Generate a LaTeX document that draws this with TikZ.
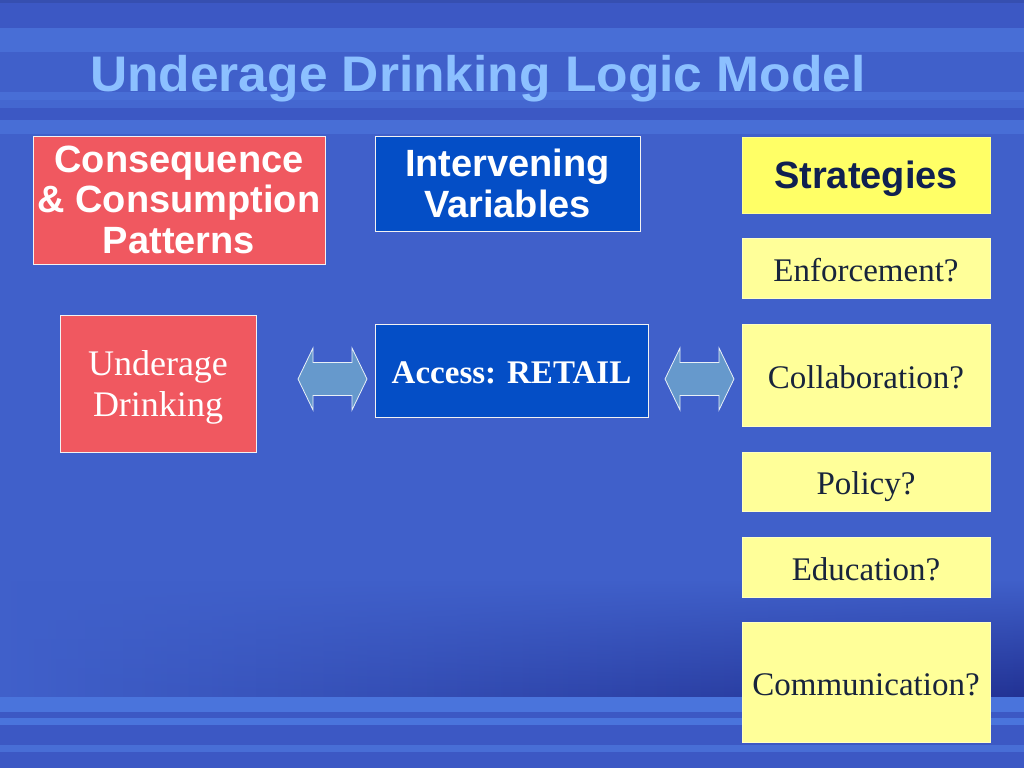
\documentclass[tikz,border=0pt]{standalone}
\usepackage{graphicx}
\usepackage{fontspec}
\setmainfont{Liberation Serif}
\newfontfamily\sansf{Liberation Sans}
\usetikzlibrary{fadings,calc}
\definecolor{bgbase}{RGB}{64,96,202}
\definecolor{bgdark}{RGB}{60,88,196}
\definecolor{bglight}{RGB}{72,110,214}
\definecolor{bgstripe}{RGB}{74,116,220}
\definecolor{bgnavy}{RGB}{34,50,148}
\definecolor{cred}{RGB}{240,88,96}
\definecolor{cblue}{RGB}{4,78,198}
\definecolor{cyel}{RGB}{255,255,102}
\definecolor{cyellite}{RGB}{255,255,153}
\definecolor{cnavy}{RGB}{16,32,80}
\definecolor{cytext}{RGB}{24,36,60}
\definecolor{ctitle}{RGB}{140,192,255}
\definecolor{carrow}{RGB}{102,153,204}
\newcommand{\lowr}[2]{\raisebox{-#1}[\height][\depth]{#2}}
\tikzset{
  box/.style={draw=white!90!gray, line width=0.8pt, inner sep=0pt, align=center},
  redbox/.style={box, fill=cred, text=white},
  bluebox/.style={box, fill=cblue, text=white},
  ybox/.style={box, draw=cyellite!60!white, fill=cyellite, text=cytext, minimum width=248pt,
    font=\fontsize{33}{38}\selectfont},
  hsans/.style={font=\sansf\bfseries\fontsize{38}{41}\selectfont},
  arrowsty/.style={fill=carrow, draw=white!85!carrow, line width=0.8pt, line join=miter},
  dbl/.pic={\path[arrowsty] (-34.5,0) -- (-19.5,-31) -- (-19.5,-16.5) -- (19.5,-16.5) -- (19.5,-31)
     -- (34.5,0) -- (19.5,31) -- (19.5,16.5) -- (-19.5,16.5) -- (-19.5,31) -- cycle;}
}
\begin{document}
\begin{tikzpicture}[x=1pt,y=-1pt]
\useasboundingbox (0,0) rectangle (1024,768);
% background
\fill[bgbase] (0,0) rectangle (1024,768);
% top stripes
\fill[bgdark!90!black] (0,0) rectangle (1024,3);
\fill[bgdark] (0,3) rectangle (1024,28);
\fill[bglight] (0,28) rectangle (1024,52);
\fill[bglight] (0,92) rectangle (1024,100);
\fill[bglight!50!bgbase] (0,100) rectangle (1024,108);
\fill[bgdark] (0,108) rectangle (1024,120);
\fill[bglight] (0,120) rectangle (1024,134);
% darker lower right area
\shade[left color=bgbase, right color=bgnavy, path fading=north] (0,580) rectangle (1024,697);
% bottom stripes
\fill[bgstripe] (0,697) rectangle (1024,712);
\fill[bgdark] (0,712) rectangle (1024,718);
\fill[bgstripe] (0,718) rectangle (1024,725);
\fill[bgdark] (0,725) rectangle (1024,745);
\fill[bglight] (0,745) rectangle (1024,752);
\fill[bgdark] (0,752) rectangle (1024,768);

% title
\node[anchor=base west, text=ctitle, inner sep=0pt] (title) at (90,91)
  {\scalebox{1.03}[1]{\sansf\bfseries\fontsize{50}{54}\selectfont Underage Drinking Logic Model}};

% header boxes
\node[redbox, hsans, minimum width=292pt, minimum height=128pt] (cons) at (179,200)
  {Consequence\\[-0.5pt]\& Consumption\\Patterns};
\node[bluebox, hsans, minimum width=265pt, minimum height=95pt] (inter) at (507.5,183.5)
  {Intervening\\Variables};
\node[box, hsans, fill=cyel, text=cnavy, draw=cyel!70!white, minimum width=248pt, minimum height=76pt] (strat) at (866,175)
  {\lowr{4pt}{Strategies}};

% middle row
\node[redbox, font=\fontsize{36}{41}\selectfont, minimum width=196pt, minimum height=137pt] (ud) at (158,383.5)
  {\lowr{4.5pt}{\begin{tabular}{@{}c@{}}Underage\\[0pt]Drinking\end{tabular}}};
\node[bluebox, font=\bfseries\fontsize{33}{38}\selectfont, minimum width=273pt, minimum height=93pt] (acc) at (511.5,370.5)
  {\lowr{2pt}{Access: RETAIL}};

% strategies list
\node[ybox, minimum height=60pt] (enf) at (866,268) {\lowr{2pt}{Enforcement?}};
\node[ybox, minimum height=102pt] (col) at (866,375) {\lowr{2pt}{Collaboration?}};
\node[ybox, minimum height=59pt] (pol) at (866,481.5) {\lowr{5pt}{Policy?}};
\node[ybox, minimum height=60pt] (edu) at (866,567) {\lowr{2pt}{Education?}};
\node[ybox, minimum height=120pt] (com) at (866,682) {\lowr{3pt}{Communication?}};

% double arrows between the boxes
\coordinate (a1) at (332.5,379);
\coordinate (a2) at (699.5,379);
\pic at (a1) {dbl};
\pic at (a2) {dbl};
\end{tikzpicture}
\end{document}
